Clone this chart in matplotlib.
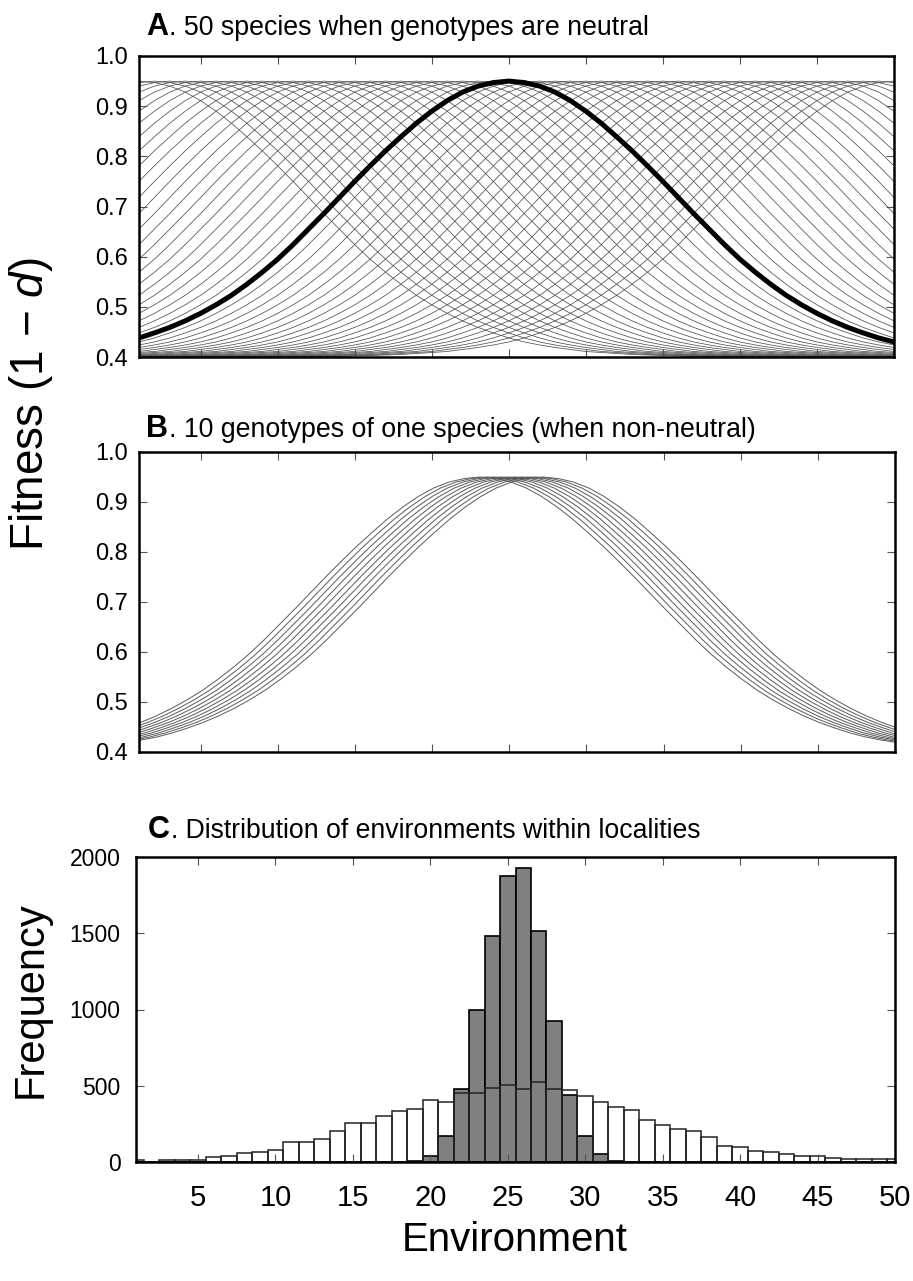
import numpy as np
import matplotlib
matplotlib.use('Agg')
import matplotlib.pyplot as plt
from matplotlib import font_manager

names = {f.name for f in font_manager.fontManager.ttflist}
SANS = 'Liberation Sans' if 'Liberation Sans' in names else 'DejaVu Sans'
NARROW = 'Liberation Sans Narrow' if 'Liberation Sans Narrow' in names else SANS

plt.rcParams['font.family'] = [SANS, 'DejaVu Sans']
plt.rcParams['mathtext.fontset'] = 'custom'
plt.rcParams['mathtext.rm'] = SANS
plt.rcParams['mathtext.it'] = SANS + ':italic'

# ---------------- data ----------------
environment = list(range(1, 51))

# fitness (1 - d) as a function of distance from a genotype's optimum (0..49)
fitness_by_distance = [0.950, 0.947, 0.940, 0.928, 0.911, 0.890, 0.866, 0.839, 0.811, 0.781,
                       0.750, 0.718, 0.686, 0.655, 0.624, 0.595, 0.569, 0.545, 0.523, 0.504,
                       0.487, 0.472, 0.459, 0.448, 0.438, 0.430, 0.424, 0.419, 0.415, 0.411,
                       0.409, 0.407, 0.405, 0.404, 0.403, 0.402, 0.401, 0.401, 0.401, 0.400,
                       0.400, 0.400, 0.400, 0.400, 0.400, 0.400, 0.400, 0.400, 0.400, 0.400]

species_optima = list(range(1, 51))          # panel A, 50 neutral species
highlight_optimum = 25                        # bold curve in panel A
genotype_optima = [23.1, 23.55, 24.0, 24.45, 24.9, 25.35, 25.8, 26.25, 26.7, 27.15]  # panel B

freq_wide = [13, 3, 13, 13, 13, 31, 42, 57, 66, 79,
             134, 134, 150, 205, 255, 255, 299, 337, 348, 409,
             394, 455, 453, 487, 502, 476, 526, 476, 469, 430,
             393, 362, 338, 277, 244, 218, 205, 167, 108, 97,
             75, 64, 51, 40, 40, 29, 18, 18, 18, 18]
freq_local = [0, 0, 0, 0, 0, 0, 0, 0, 0, 0,
              0, 0, 0, 0, 0, 0, 0, 2, 4, 42,
              170, 478, 997, 1480, 1878, 1925, 1512, 925, 438, 170,
              53, 6, 2, 0, 0, 0, 0, 0, 0, 0,
              0, 0, 0, 0, 0, 0, 0, 0, 0, 0]

xticks = [5, 10, 15, 20, 25, 30, 35, 40, 45, 50]
fit_ticks = [0.4, 0.5, 0.6, 0.7, 0.8, 0.9, 1.0]
freq_ticks = [0, 500, 1000, 1500, 2000]

# ---------------- figure ----------------
W, H = 913, 1281
fig = plt.figure(figsize=(W / 100, H / 100), dpi=100)

def frac_rect(l, t, r, b):
    return [l / W, 1 - b / H, (r - l) / W, (b - t) / H]

axA = fig.add_axes(frac_rect(139, 56, 894, 357))
axB = fig.add_axes(frac_rect(139, 452, 895, 752))
axC = fig.add_axes(frac_rect(136, 857, 895, 1162))

def style(ax):
    for s in ax.spines.values():
        s.set_linewidth(1.8)
        s.set_color('black')
    ax.tick_params(direction='in', which='both', top=True, right=True,
                   length=6, width=0.8, color='#555555')
    ax.set_xlim(1, 50)
    ax.set_xticks(xticks)

prof = np.array(fitness_by_distance)
offsets = np.arange(-(len(prof) - 1), len(prof))

# Panel A
for mu in species_optima:
    axA.plot(mu + offsets, prof[np.abs(offsets)], color='#505050', lw=0.55, zorder=2)
axA.plot(highlight_optimum + offsets, prof[np.abs(offsets)], color='black', lw=3.6,
         zorder=3, solid_joinstyle='round', solid_capstyle='round')
axA.set_ylim(0.4, 1.0)

# Panel B
for mu in genotype_optima:
    axB.plot(mu + offsets, prof[np.abs(offsets)], color='#5a5a5a', lw=0.7)
axB.set_ylim(0.4, 1.0)

for ax in (axA, axB):
    style(ax)
    ax.set_yticks(fit_ticks)
    ax.set_yticklabels(['%.1f' % v for v in fit_ticks], fontfamily=NARROW, fontsize=17)
    ax.set_xticklabels([])
    ax.tick_params(axis='y', pad=8)

# Panel C
axC.bar(environment, freq_wide, width=1.0, color='white', edgecolor='none', zorder=1)
axC.bar(environment, freq_local, width=1.0, color='#808080', edgecolor='black',
        linewidth=1.2, zorder=1.1)
axC.bar(environment, freq_wide, width=1.0, fill=False, edgecolor='#222222',
        linewidth=1.1, zorder=1.2)
axC.set_ylim(0, 2000)
style(axC)
axC.set_yticks(freq_ticks)
axC.set_yticklabels([str(v) for v in freq_ticks], fontfamily=SANS, fontsize=16.5)
axC.set_xticklabels([str(v) for v in xticks], fontfamily=NARROW, fontsize=21)
axC.tick_params(axis='y', pad=11)
axC.tick_params(axis='x', pad=16)

# Titles: bold letter + rest
fig.canvas.draw()
renderer = fig.canvas.get_renderer()

def title(letter, rest, x_px, base_px, rest_family, rest_size, letter_size):
    t = fig.text(x_px / W, 1 - base_px / H, letter, fontweight='bold', fontsize=letter_size,
                 fontfamily=SANS, ha='left', va='baseline')
    bb = t.get_window_extent(renderer)
    fig.text(bb.x1 / W + 1.0 / W, 1 - base_px / H, rest, fontsize=rest_size,
             fontfamily=rest_family, ha='left', va='baseline')

title('A', '. 50 species when genotypes are neutral', 146, 35, NARROW, 19.3, 22)
title('B', '. 10 genotypes of one species (when non-neutral)', 146, 437, NARROW, 19.3, 22)
title('C', '. Distribution of environments within localities', 148, 838, SANS, 19.2, 22)

fig.text(31 / W, 1 - 404 / H, 'Fitness (1 \u2212 $\\mathit{d}$)', rotation=90,
         ha='center', va='center', fontsize=33)
fig.text(31 / W, 1 - 1000 / H, 'Frequency', rotation=90, ha='center', va='center', fontsize=30)
fig.text(515 / W, 1 - 1240 / H, 'Environment', ha='center', va='center', fontsize=29)

fig.savefig('out.png', dpi=100)
